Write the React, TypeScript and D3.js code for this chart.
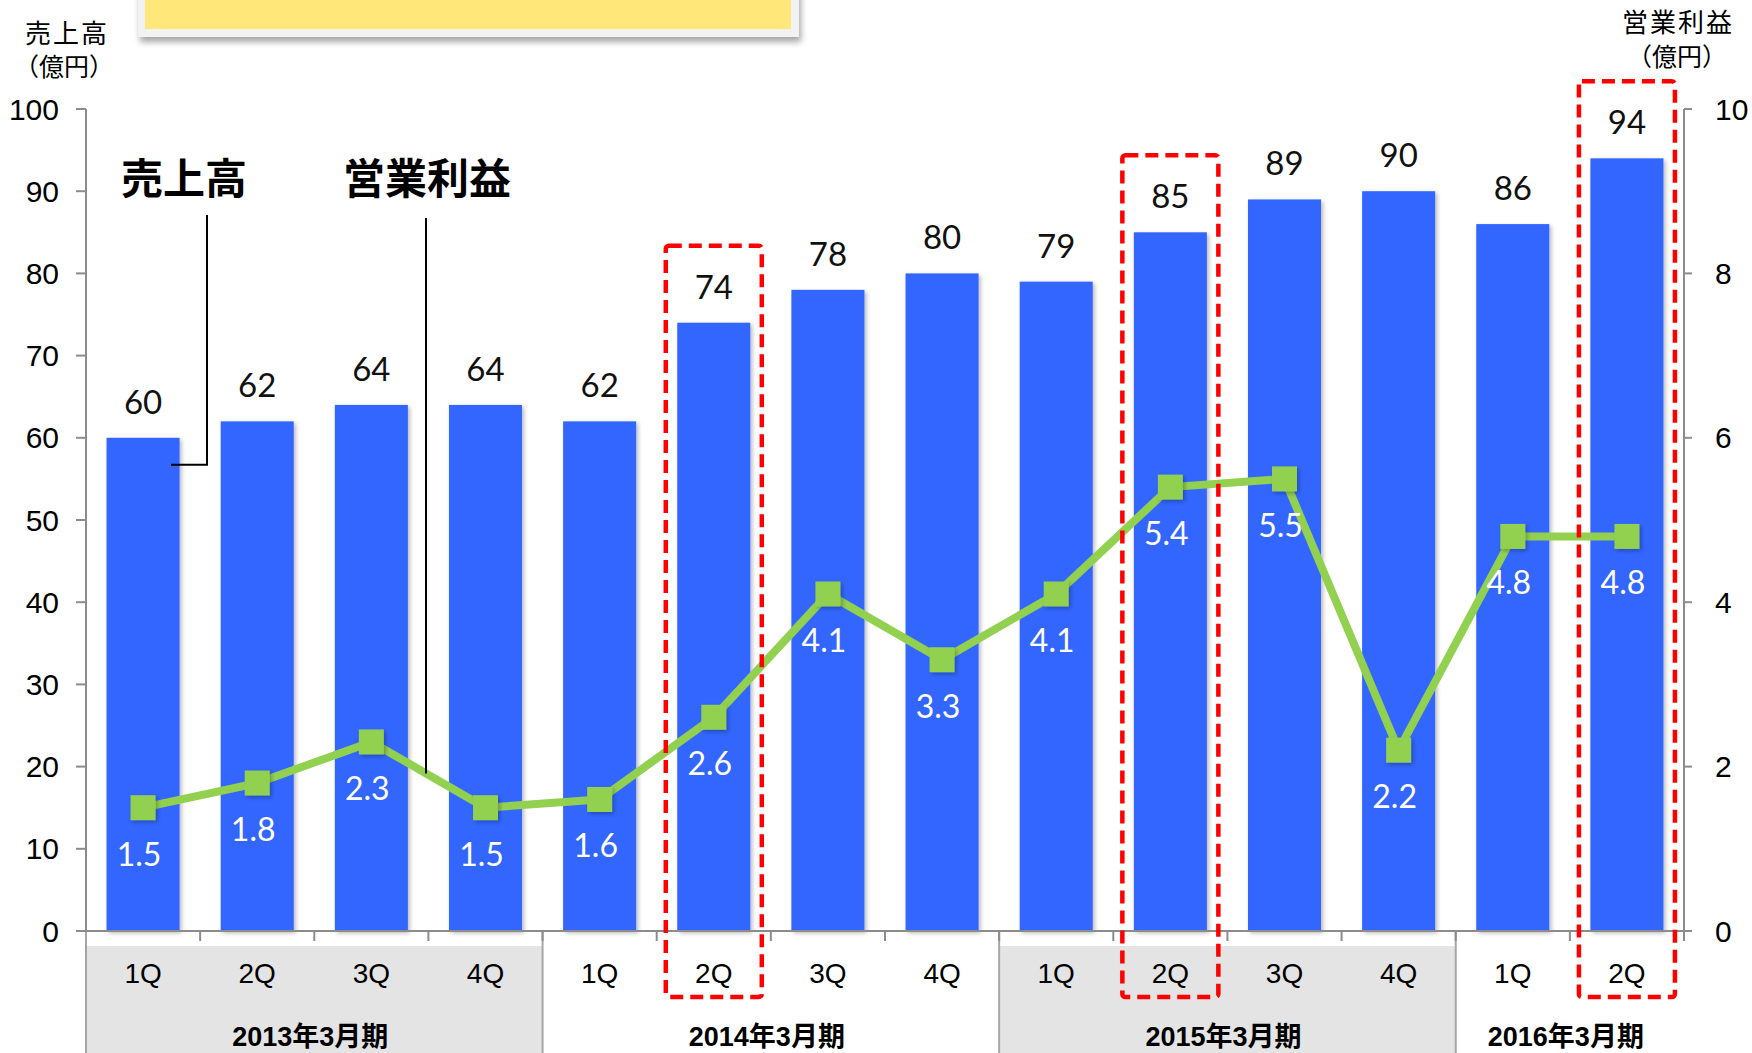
import React from "react";
import * as d3 from "d3";

const quarters = ["1Q", "2Q", "3Q", "4Q", "1Q", "2Q", "3Q", "4Q", "1Q", "2Q", "3Q", "4Q", "1Q", "2Q"];
const fiscalYears = ["2013年3月期", "2014年3月期", "2015年3月期", "2016年3月期"];
const fiscalYearQuarterCounts = [4, 4, 4, 2];
const fiscalYearShaded = [true, false, true, false];
const sales = [60, 62, 64, 64, 62, 74, 78, 80, 79, 85, 89, 90, 86, 94];
const operatingProfit = [1.5, 1.8, 2.3, 1.5, 1.6, 2.6, 4.1, 3.3, 4.1, 5.4, 5.5, 2.2, 4.8, 4.8];
const highlightedIndices = [5, 9, 13];
const leftTicks = [0, 10, 20, 30, 40, 50, 60, 70, 80, 90, 100];
const rightTicks = [0, 2, 4, 6, 8, 10];

const W = 1752;
const H = 1053;
const X0 = 86;
const X1 = 1684;
const Y0 = 931;
const Y1 = 109;

const BLUE = "#3366FF";
const GREEN = "#92D050";
const AXIS = "#8c8c8c";
const NUM_FONT = "Lato, 'Open Sans', sans-serif";
const TICK_FONT = "'Liberation Sans', Arial, 'Noto Sans CJK JP', sans-serif";
const CJK_FONT = "'Noto Sans CJK JP', sans-serif";

export default function App() {
  const idx = quarters.map((_, i) => i);
  const x = d3.scaleBand<number>().domain(idx).range([X0, X1]).padding(0);
  const bw = x.bandwidth();
  const cx = (i: number) => (x(i) as number) + bw / 2;
  const yL = d3.scaleLinear().domain([0, 100]).range([Y0, Y1]);
  const yR = d3.scaleLinear().domain([0, 10]).range([Y0, Y1]);
  const barW = bw * 0.64;

  const line = d3
    .line<number>()
    .x((_, i) => cx(i))
    .y((d) => yR(d));

  let start = 0;
  const groups = fiscalYears.map((label, g) => {
    const s = start;
    const e = start + fiscalYearQuarterCounts[g];
    start = e;
    return {
      label,
      shaded: fiscalYearShaded[g],
      x0: x(s) as number,
      x1: e < quarters.length ? (x(e) as number) : X1,
    };
  });

  const leaderX = 426;
  const pA = { x: cx(2), y: yR(operatingProfit[2]) };
  const pB = { x: cx(3), y: yR(operatingProfit[3]) };
  const leaderY = pA.y + ((leaderX - pA.x) / (pB.x - pA.x)) * (pB.y - pA.y);

  return (
    <svg
      width={W}
      height={H}
      viewBox={`0 0 ${W} ${H}`}
      style={{ position: "absolute", left: 0, top: 0, display: "block", background: "#fff" }}
    >
      <defs>
        <filter id="shadow" x="-20%" y="-20%" width="140%" height="140%">
          <feDropShadow dx="2" dy="2" stdDeviation="2" floodColor="#000" floodOpacity="0.28" />
        </filter>
        <filter id="boxShadow" x="-10%" y="-50%" width="120%" height="200%">
          <feDropShadow dx="2" dy="5" stdDeviation="3" floodColor="#000" floodOpacity="0.35" />
        </filter>
      </defs>

      <rect x={138} y={-12} width={661} height={49} fill="#f2f2f2" filter="url(#boxShadow)" />
      <rect x={145} y={-12} width={646} height={41} fill="#FFE77A" />

      {groups.map((g, i) =>
        g.shaded ? (
          <rect key={"gbg" + i} x={g.x0} y={946} width={g.x1 - g.x0} height={H - 946} fill="#e4e4e4" />
        ) : null
      )}
      {groups.map((g, i) => (
        <line key={"gl" + i} x1={g.x0} x2={g.x0} y1={Y0} y2={H} stroke="#a6a6a6" strokeWidth={2} />
      ))}
      {idx.slice(1).map((i) => (
        <line key={"ct" + i} x1={x(i) as number} x2={x(i) as number} y1={Y0} y2={Y0 + 10} stroke={AXIS} strokeWidth={2} />
      ))}
      <line x1={X1} x2={X1} y1={Y0} y2={Y0 + 10} stroke={AXIS} strokeWidth={2} />
      {quarters.map((q, i) => (
        <text
          key={"q" + i}
          x={cx(i)}
          y={973}
          textAnchor="middle"
          dominantBaseline="central"
          fontFamily={TICK_FONT}
          fontSize={28}
          fill="#000"
        >
          {q}
        </text>
      ))}
      {groups.map((g, i) => (
        <text
          key={"gy" + i}
          x={(g.x0 + g.x1) / 2 - 4}
          y={1037}
          textAnchor="middle"
          dominantBaseline="central"
          fontFamily={TICK_FONT}
          fontWeight="bold"
          fontSize={27}
          fill="#000"
        >
          {g.label}
        </text>
      ))}

      {sales.map((v, i) => (
        <rect
          key={"b" + i}
          x={cx(i) - barW / 2}
          y={yL(v)}
          width={barW}
          height={Y0 - yL(v)}
          fill={BLUE}
          filter="url(#shadow)"
        />
      ))}

      <line x1={X0} x2={X0} y1={Y1} y2={Y0} stroke={AXIS} strokeWidth={2} />
      <line x1={X1} x2={X1} y1={Y1} y2={Y0} stroke={AXIS} strokeWidth={2} />
      <line x1={X0 - 10} x2={X1 + 8} y1={Y0} y2={Y0} stroke={AXIS} strokeWidth={2} />
      {leftTicks.map((t) => (
        <g key={"lt" + t}>
          <line x1={X0 - 10} x2={X0} y1={yL(t)} y2={yL(t)} stroke={AXIS} strokeWidth={2} />
          <text
            x={59}
            y={yL(t)}
            textAnchor="end"
            dominantBaseline="central"
            fontFamily={TICK_FONT}
            fontSize={30}
            fill="#000"
          >
            {t}
          </text>
        </g>
      ))}
      {rightTicks.map((t) => (
        <g key={"rt" + t}>
          <line x1={X1} x2={X1 + 8} y1={yR(t)} y2={yR(t)} stroke={AXIS} strokeWidth={2} />
          <text
            x={1715}
            y={yR(t)}
            textAnchor="start"
            dominantBaseline="central"
            fontFamily={TICK_FONT}
            fontSize={30}
            fill="#000"
          >
            {t}
          </text>
        </g>
      ))}

      <text x={67} y={31} textAnchor="middle" dominantBaseline="central" fontFamily={CJK_FONT} fontSize={26} letterSpacing={2} fill="#000">
        売上高
      </text>
      <text x={64} y={65} textAnchor="middle" dominantBaseline="central" fontFamily={CJK_FONT} fontSize={25} fill="#000">
        （億円）
      </text>
      <text x={1678} y={20} textAnchor="middle" dominantBaseline="central" fontFamily={CJK_FONT} fontSize={26} letterSpacing={2} fill="#000">
        営業利益
      </text>
      <text x={1677} y={55} textAnchor="middle" dominantBaseline="central" fontFamily={CJK_FONT} fontSize={25} fill="#000">
        （億円）
      </text>

      {sales.map((v, i) => (
        <text
          key={"bl" + i}
          x={cx(i)}
          y={yL(v) - 24}
          textAnchor="middle"
          fontFamily={NUM_FONT}
          fontSize={33}
          fill="#111"
        >
          {v}
        </text>
      ))}

      <path d={line(operatingProfit) || ""} fill="none" stroke={GREEN} strokeWidth={8} strokeLinejoin="round" />
      {operatingProfit.map((v, i) => (
        <rect
          key={"m" + i}
          x={cx(i) - 12.5}
          y={yR(v) - 12.5}
          width={25}
          height={25}
          fill={GREEN}
          filter="url(#shadow)"
        />
      ))}
      {operatingProfit.map((v, i) => (
        <text
          key={"pl" + i}
          x={cx(i) - 4}
          y={yR(v) + 58}
          textAnchor="middle"
          fontFamily={NUM_FONT}
          fontSize={32}
          fill="#fff"
        >
          {v.toFixed(1)}
        </text>
      ))}

      {highlightedIndices.map((i) => (
        <rect
          key={"hb" + i}
          x={cx(i) - 48}
          y={yL(sales[i]) - 77}
          width={96}
          height={997 - (yL(sales[i]) - 77)}
          rx={3}
          fill="none"
          stroke="#ff0000"
          strokeWidth={4.5}
          strokeDasharray="13 7"
        />
      ))}

      <text x={184} y={175} textAnchor="middle" dominantBaseline="central" fontFamily={CJK_FONT} fontWeight={700} fontSize={42} fill="#000">
        売上高
      </text>
      <text x={427} y={175} textAnchor="middle" dominantBaseline="central" fontFamily={CJK_FONT} fontWeight={700} fontSize={42} fill="#000">
        営業利益
      </text>
      <path d={`M207,215 V${yL(sales[0]) + 27} H171`} fill="none" stroke="#000" strokeWidth={2} />
      <path d={`M${leaderX},218 V${leaderY}`} fill="none" stroke="#000" strokeWidth={2} />
    </svg>
  );
}
